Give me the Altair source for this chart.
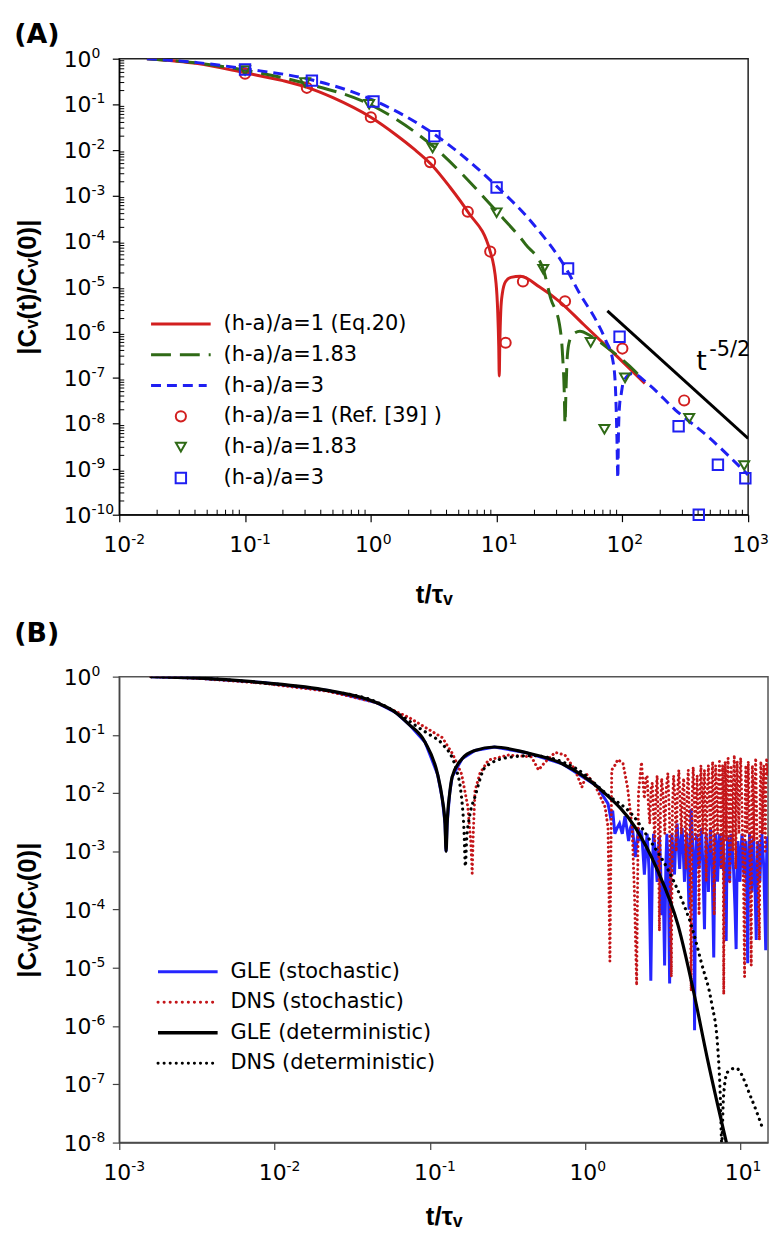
import altair as alt
import pandas as pd

FONT = "DejaVu Sans"
TFONT = "Liberation Sans"
RED = "#d21f1f"
GREEN = "#2f6a16"
BLUE = "#1f1ff2"
B_BLUE = "#2525ff"
B_RED = "#c41519"
BLACK = "#000000"

# ------------------------- Panel A data -------------------------
a_legend_labels = ["(h-a)/a=1 (Eq.20)", "(h-a)/a=1.83", "(h-a)/a=3",
                   "(h-a)/a=1 (Ref. [39] )", "(h-a)/a=1.83", "(h-a)/a=3"]

a_red_t = [0.0166, 0.042, 0.1, 0.2, 0.32, 0.5, 1.0, 1.6, 2.2, 3.0, 4.2, 5.9, 8.9, 9.9,
           10.2, 10.4, 10.5, 10.6, 10.8, 11.1, 11.8, 13, 15.5, 22, 32, 49, 81, 151]
a_red_c = [1.0, 0.78, 0.49, 0.33, 0.23, 0.14, 0.052, 0.021, 0.0105, 0.0049, 1.6e-3,
           4.4e-4, 5.9e-5, 1.2e-5, 3e-6, 5e-7, 1.1e-7, 5e-7, 3e-6, 7e-6, 1.3e-5,
           1.6e-5, 1.7e-5, 9.8e-6, 4.6e-6, 1.5e-6, 4e-7, 7.6e-8]

a_green_t = [0.0166, 0.042, 0.1, 0.3, 1.0, 3.06, 10, 17, 23.5, 27, 31.6, 33.5, 34.5,
             35, 35.6, 36.5, 38, 41, 46, 56, 81, 126, 137]
a_green_c = [1.0, 0.8, 0.56, 0.29, 0.097, 0.0126, 4.5e-4, 8.5e-5, 2.4e-5, 5.4e-6,
             1.5e-6, 3e-7, 5e-8, 1e-8, 5e-8, 3e-7, 6.5e-7, 9.3e-7, 1.05e-6, 8.3e-7,
             4e-7, 1.4e-7, 1.1e-7]

a_blue_t = [0.0166, 0.042, 0.1, 0.33, 1.0, 3.2, 10, 20, 36, 46, 62, 74, 84, 88,
            90.5, 92, 93, 95, 98, 102, 120, 158, 263, 478, 1000]
a_blue_c = [1.0, 0.82, 0.6, 0.35, 0.13, 0.022, 1.6e-3, 2.2e-4, 2.4e-5, 6.9e-6,
            1.8e-6, 6.5e-7, 2.4e-7, 6.5e-8, 5e-9, 6.4e-10, 5e-9, 2.5e-8, 4.5e-8,
            8.3e-8, 1.25e-7, 7.6e-8, 2e-8, 5.2e-9, 7.4e-10]

a_circ_t = [0.1, 0.31, 1.0, 2.96, 5.9, 8.9, 11.8, 16.2, 35, 100, 310]
a_circ_c = [0.47, 0.23, 0.052, 0.0054, 4.4e-4, 5.9e-5, 5.9e-7, 1.3e-5, 4.8e-6,
            4.4e-7, 3.2e-8]

a_tri_t = [0.1, 0.3, 0.97, 3.1, 10, 23.5, 56, 72, 105, 340, 930]
a_tri_c = [0.55, 0.3, 0.1, 0.011, 4.2e-4, 2.4e-5, 6e-7, 7.5e-9, 1e-7, 1.3e-8, 1.2e-9]

a_sq_t = [0.1, 0.34, 1.05, 3.2, 10, 37, 95, 280, 405, 575, 950]
a_sq_c = [0.58, 0.33, 0.115, 0.02, 1.5e-3, 2.5e-5, 8e-7, 8.7e-9, 1e-10, 1.25e-9, 6.3e-10]

a_pow_t = [76, 1000]
a_pow_c = [2.95e-6, 4.7e-9]
a_pow_text = ["t", "-5/2"]
a_pow_text_t = [425, 490]
a_pow_text_c = [2.2e-7, 4.1e-7]

a_x_ticks = [1e-2, 1e-1, 1e0, 1e1, 1e2, 1e3]
a_x_exp = ["-2", "-1", "0", "1", "2", "3"]
a_y_ticks = [1e-10, 1e-9, 1e-8, 1e-7, 1e-6, 1e-5, 1e-4, 1e-3, 1e-2, 1e-1, 1e0]
a_y_exp = ["-10", "-9", "-8", "-7", "-6", "-5", "-4", "-3", "-2", "-1", "0"]

# ------------------------- Panel B data -------------------------
b_legend_labels = ["GLE (stochastic)", "DNS (stochastic)", "GLE (deterministic)",
                   "DNS (deterministic)"]

b_gle_det_t = [0.0016, 0.0031, 0.0084, 0.022, 0.045, 0.06, 0.073, 0.093, 0.112, 0.12,
               0.125, 0.127, 0.129, 0.134, 0.139, 0.161, 0.195, 0.26, 0.41, 0.71,
               1.28, 2.09, 2.9, 3.96, 5.0, 6.1, 8.1]
b_gle_det_c = [1.0, 0.95, 0.79, 0.58, 0.36, 0.243, 0.153, 0.075, 0.021, 0.008, 0.003,
               0.001, 0.003, 0.01, 0.019, 0.039, 0.054, 0.062, 0.05, 0.032, 0.011,
               2.6e-3, 4.9e-4, 5.3e-5, 3.7e-6, 2.8e-7, 1e-8]

b_dns_det_t = [0.0016, 0.0031, 0.0084, 0.022, 0.045, 0.072, 0.084, 0.1, 0.12, 0.146,
               0.16, 0.166, 0.169, 0.172, 0.18, 0.195, 0.227, 0.32, 0.45, 0.86, 1.4,
               2.0, 2.67, 3.4, 4.17, 4.83, 5.6, 6.5, 7.1, 7.4, 7.55, 7.75, 8.2, 9.3,
               11.7, 13.8]
b_dns_det_c = [1.0, 0.95, 0.78, 0.57, 0.37, 0.18, 0.135, 0.1, 0.07, 0.028, 0.008,
               0.002, 5.5e-4, 0.0015, 0.004, 0.0087, 0.028, 0.041, 0.044, 0.027,
               9.2e-3, 4.3e-3, 1.4e-3, 4.9e-4, 1.5e-4, 5.2e-5, 1.2e-5, 2.5e-6, 4.7e-7,
               6e-8, 1e-8, 6e-8, 1.6e-7, 1.9e-7, 5.8e-8, 1.8e-8]

# GLE (stochastic): (t, C)
b_gle_sto = [
    (0.0016, 1.0), (0.0031, 0.95), (0.0084, 0.79), (0.022, 0.58), (0.045, 0.36),
    (0.06, 0.243), (0.073, 0.153), (0.093, 0.075), (0.112, 0.021), (0.12, 0.008),
    (0.125, 0.003), (0.127, 0.001), (0.129, 0.003), (0.134, 0.01), (0.139, 0.019),
    (0.161, 0.039), (0.195, 0.054), (0.26, 0.062), (0.41, 0.05), (0.71, 0.032),
    (1.2, 0.013), (1.3, 0.009), (1.4, 6.6e-3), (1.45, 4e-3), (1.5, 5e-3), (1.55, 2e-3),
    (1.6, 2.5e-3), (1.66, 3e-3), (1.73, 2e-3), (1.8, 4e-3), (1.85, 2.5e-3),
    (1.9, 1.5e-3), (1.95, 2.5e-3), (2.0, 3e-3), (2.05, 1.5e-3), (2.1, 8e-4),
    (2.15, 1.5e-3), (2.2, 2.5e-3), (2.25, 1.5e-3), (2.3, 2.3e-3), (2.35, 1e-3),
    (2.4, 4e-4), (2.45, 1e-3), (2.5, 2e-3), (2.57, 5e-4), (2.64, 6e-6), (2.7, 5e-4),
    (2.75, 2e-3), (2.82, 1e-3), (2.9, 3e-4), (2.95, 1e-3), (3.0, 1.8e-3),
    (3.05, 6e-4), (3.1, 8e-5), (3.17, 3e-4), (3.24, 1.1e-5), (3.3, 6e-4),
    (3.35, 2e-3), (3.42, 5e-4), (3.49, 5.4e-6), (3.55, 6e-4), (3.6, 2e-3),
    (3.67, 1e-3), (3.75, 4e-4), (3.82, 1.5e-3), (3.9, 3e-3), (3.97, 1.2e-3),
    (4.05, 5e-4), (4.12, 1.5e-3), (4.2, 2.5e-3), (4.27, 1e-3), (4.35, 3e-4),
    (4.42, 1e-3), (4.5, 2e-3), (4.57, 6e-4), (4.65, 1e-4), (4.72, 1e-3),
    (4.8, 5.4e-3), (4.87, 2e-3), (4.95, 1e-3), (5.0, 1e-4), (5.05, 8.5e-7),
    (5.12, 3e-4), (5.2, 2e-3), (5.3, 1e-3), (5.4, 5e-4), (5.5, 1.2e-3), (5.6, 2.5e-3),
    (5.72, 5e-4), (5.85, 4.6e-5), (5.92, 5e-4), (6.0, 2e-3), (6.1, 8e-4),
    (6.2, 2e-4), (6.3, 1e-3), (6.4, 2.5e-3), (6.47, 1.2e-3), (6.55, 6e-4),
    (6.63, 1e-4), (6.71, 1.5e-5), (6.8, 5e-4), (6.9, 2e-3), (7.0, 1e-3), (7.1, 3e-4),
    (7.2, 1e-3), (7.3, 2e-3), (7.4, 1e-3), (7.5, 5e-4), (7.6, 1e-3), (7.7, 2e-3),
    (7.8, 6e-4), (7.9, 1e-4), (8.0, 5e-4), (8.07, 2.9e-5), (8.15, 6e-4),
    (8.25, 1.8e-3), (8.37, 8e-4), (8.5, 3e-4), (8.6, 1e-3), (8.7, 2e-3),
    (8.85, 1e-3), (9.0, 5e-4), (9.2, 1e-4), (9.35, 2.1e-5), (9.47, 4e-4),
    (9.6, 1.5e-3), (9.75, 8e-4), (9.9, 3e-4), (10.05, 1e-3), (10.2, 2e-3),
    (10.35, 1e-3), (10.5, 4e-4), (10.65, 8e-4), (10.8, 1.5e-3), (10.95, 2e-4),
    (11.1, 1.2e-5), (11.25, 5e-4), (11.4, 2e-3), (11.6, 8e-4), (11.8, 2e-4),
    (11.95, 1e-3), (12.1, 1.8e-3), (12.35, 3e-4), (12.6, 3e-5), (12.75, 4e-4),
    (12.9, 1.5e-3), (13.1, 8e-4), (13.3, 3e-4), (13.5, 1e-3), (13.7, 2e-3),
    (13.9, 1e-3), (14.1, 5e-4), (14.3, 1e-4), (14.5, 2e-5), (14.65, 5e-4),
    (14.8, 1.8e-3), (14.9, 1.2e-3), (15.0, 1e-3),
]

# DNS (stochastic): (t, C)
b_dns_sto = [
    (0.0016, 1.0), (0.0031, 0.94), (0.0084, 0.77), (0.022, 0.56), (0.045, 0.36),
    (0.073, 0.2), (0.093, 0.135), (0.12, 0.09), (0.14, 0.047), (0.16, 0.021),
    (0.175, 0.006), (0.183, 0.0015), (0.187, 4.2e-4), (0.19, 0.002), (0.195, 0.011),
    (0.21, 0.022), (0.238, 0.037), (0.32, 0.045), (0.45, 0.042), (0.5, 0.025),
    (0.55, 0.034), (0.64, 0.05), (0.74, 0.045), (0.86, 0.025), (0.95, 0.0126),
    (1.02, 0.021), (1.15, 0.014), (1.34, 5.8e-3), (1.40, 2.6e-3), (1.44, 1.3e-5),
    (1.48, 0.025), (1.55, 0.03), (1.62, 0.038), (1.68, 0.035), (1.75, 0.032),
    (1.81, 0.02), (1.87, 0.0126), (1.93, 0.006), (2.0, 2.6e-3), (2.07, 2e-4),
    (2.14, 5e-6), (2.2, 0.01), (2.3, 0.034), (2.35, 0.015), (2.4, 0.008),
    (2.45, 0.018), (2.5, 0.02), (2.55, 0.006), (2.6, 0.003), (2.65, 0.012),
    (2.7, 0.015), (2.75, 0.004), (2.8, 1.5e-3), (2.85, 0.01), (2.9, 0.02),
    (2.95, 0.003), (3.0, 4.3e-5), (3.05, 0.006), (3.1, 0.018), (3.17, 0.009),
    (3.25, 2e-3), (3.32, 0.012), (3.4, 0.022), (3.48, 0.004), (3.58, 7e-6),
    (3.64, 0.006), (3.7, 0.02), (3.78, 0.008), (3.85, 1e-3), (3.92, 0.01),
    (4.0, 0.025), (4.07, 0.008), (4.15, 2e-3), (4.22, 0.01), (4.3, 0.018),
    (4.37, 0.004), (4.45, 5e-4), (4.52, 0.01), (4.6, 0.025), (4.7, 0.002),
    (4.8, 4e-6), (4.87, 0.008), (4.95, 0.028), (5.02, 0.01), (5.1, 1.5e-3),
    (5.17, 0.008), (5.25, 0.02), (5.32, 0.002), (5.4, 8e-5), (5.47, 0.01),
    (5.55, 0.03), (5.62, 0.01), (5.7, 2e-3), (5.77, 0.012), (5.85, 0.025),
    (5.92, 0.004), (6.0, 3e-4), (6.1, 0.01), (6.2, 0.03), (6.3, 0.008), (6.4, 1e-3),
    (6.5, 0.012), (6.6, 0.035), (6.68, 0.002), (6.76, 8e-5), (6.83, 0.01),
    (6.9, 0.03), (7.0, 0.01), (7.1, 2e-3), (7.2, 0.015), (7.3, 0.035), (7.4, 0.006),
    (7.5, 5e-4), (7.57, 0.01), (7.65, 0.03), (7.72, 0.002), (7.78, 3.5e-6),
    (7.86, 0.01), (7.95, 0.035), (8.02, 0.012), (8.1, 1.5e-3), (8.2, 0.015),
    (8.3, 0.04), (8.4, 0.005), (8.5, 3e-4), (8.6, 0.01), (8.7, 0.03), (8.8, 0.006),
    (8.9, 1e-3), (9.0, 0.015), (9.1, 0.045), (9.2, 0.008), (9.3, 5e-4),
    (9.4, 0.012), (9.5, 0.035), (9.62, 0.008), (9.75, 2e-3), (9.87, 0.015),
    (10.0, 0.04), (10.15, 0.01), (10.3, 1e-3), (10.45, 2e-4), (10.6, 7e-6),
    (10.7, 0.01), (10.8, 0.03), (10.9, 0.008), (11.0, 2e-3), (11.1, 0.012),
    (11.2, 0.035), (11.35, 0.005), (11.5, 5e-4), (11.6, 1e-4), (11.7, 1.1e-5),
    (11.8, 0.008), (11.9, 0.03), (12.05, 0.008), (12.2, 1.5e-3), (12.35, 0.015),
    (12.5, 0.04), (12.65, 0.006), (12.8, 5e-4), (13.0, 2e-4), (13.2, 3e-5),
    (13.35, 0.01), (13.5, 0.035), (13.65, 0.01), (13.8, 2e-3), (13.95, 0.012),
    (14.1, 0.03), (14.25, 0.006), (14.4, 1e-3), (14.55, 0.015), (14.7, 0.04),
    (14.85, 0.02), (15.0, 0.03),
]

b_x_ticks = [1e-3, 1e-2, 1e-1, 1e0, 1e1]
b_x_exp = ["-3", "-2", "-1", "0", "1"]
b_y_ticks = [1e-8, 1e-7, 1e-6, 1e-5, 1e-4, 1e-3, 1e-2, 1e-1, 1e0]
b_y_exp = ["-8", "-7", "-6", "-5", "-4", "-3", "-2", "-1", "0"]

# ------------------------- helpers -------------------------
Y_TITLE = "|C\u1d65(t)/C\u1d65(0)|"
X_TITLE = "t/\u03c4\u1d65"
ONE = pd.DataFrame({"k": [0]})
LAB = 22      # tick label size
SUPS = 14     # exponent size


def make_axis(values, title, color, title_pad, orient):
    return alt.Axis(values=values, labels=False, title=title, grid=False,
                    tickSize=7, tickWidth=1.2, tickColor=color, domainColor=color,
                    domainWidth=1.3, titleFont=TFONT, titleFontSize=26,
                    titleFontWeight="bold", titleColor="black",
                    titlePadding=title_pad, orient=orient)


def line(t, c, xs, ys, xa, ya, color, width, dash=None, interp="monotone", dotted=False):
    df = pd.DataFrame({"t": t, "c": c})
    kw = dict(color=color, strokeWidth=width, interpolate=interp, clip=True)
    if dash is not None:
        kw["strokeDash"] = dash
    if dotted:
        kw["strokeCap"] = "round"
    return alt.Chart(df).mark_line(**kw).encode(
        x=alt.X("t:Q", scale=xs, axis=xa), y=alt.Y("c:Q", scale=ys, axis=ya))


def points(t, c, xs, ys, xa, ya, color, shape, size):
    df = pd.DataFrame({"t": t, "c": c})
    return alt.Chart(df).mark_point(shape=shape, filled=False, color=color, size=size,
                                    strokeWidth=2, opacity=1).encode(
        x=alt.X("t:Q", scale=xs, axis=xa), y=alt.Y("c:Q", scale=ys, axis=ya))


def tick_labels(ticks, exps, xs, ys, xa, ya, along, H):
    df = pd.DataFrame({"v": ticks, "e": exps, "b": ["10"] * len(ticks)})
    base = alt.Chart(df)
    if along == "x":
        pos = dict(x=alt.X("v:Q", scale=xs, axis=xa))
        b = base.mark_text(font=FONT, fontSize=LAB, align="right", baseline="middle",
                           dx=12, color="black").encode(y=alt.value(H + 31), text="b:N", **pos)
        e = base.mark_text(font=FONT, fontSize=SUPS, align="left", baseline="middle",
                           dx=12, color="black").encode(y=alt.value(H + 25), text="e:N", **pos)
    else:
        pos = dict(y=alt.Y("v:Q", scale=ys, axis=ya))
        b = base.mark_text(font=FONT, fontSize=LAB, align="right", baseline="middle",
                           dy=1, color="black").encode(x=alt.value(-28), text="b:N", **pos)
        e = base.mark_text(font=FONT, fontSize=SUPS, align="left", baseline="middle",
                           dy=-5, color="black").encode(x=alt.value(-28), text="e:N", **pos)
    return [b, e]


def leg_line(x0, x1, y, color, width, dash=None, dotted=False):
    kw = dict(color=color, strokeWidth=width)
    if dash is not None:
        kw["strokeDash"] = dash
    if dotted:
        kw["strokeCap"] = "round"
    return alt.Chart(ONE).mark_rule(**kw).encode(
        x=alt.value(x0), x2=alt.value(x1), y=alt.value(y))


def leg_point(x, y, color, shape, size):
    return alt.Chart(ONE).mark_point(shape=shape, filled=False, color=color, size=size,
                                     strokeWidth=2, opacity=1).encode(
        x=alt.value(x), y=alt.value(y))


def leg_text(x, y, label, size=21):
    return alt.Chart(ONE).mark_text(align="left", baseline="middle", font=FONT,
                                    fontSize=size, color="black").encode(
        x=alt.value(x), y=alt.value(y), text=alt.value(label))


# ------------------------- Panel A -------------------------
WA, HA = 633, 459
xsA = alt.Scale(type="log", domain=[1e-2, 1e3], nice=False)
ysA = alt.Scale(type="log", domain=[1e-10, 1], nice=False)
xaA = make_axis(a_x_ticks, X_TITLE, "black", 60, "bottom")
yaA = make_axis(a_y_ticks, Y_TITLE, "black", 72, "left")

a_minor_x = [m * 10.0 ** k for k in range(-2, 3) for m in range(2, 10)]
a_minor_y = [m * 10.0 ** k for k in range(-10, 0) for m in range(2, 10)]

layersA = [
    alt.Chart(pd.DataFrame({"v": a_minor_x})).mark_rule(color="black", strokeWidth=1).encode(
        x=alt.X("v:Q", scale=xsA, axis=xaA), y=alt.value(HA), y2=alt.value(HA - 5)),
    alt.Chart(pd.DataFrame({"v": a_minor_y})).mark_rule(color="black", strokeWidth=1).encode(
        y=alt.Y("v:Q", scale=ysA, axis=yaA), x=alt.value(0), x2=alt.value(5)),
    line(a_red_t, a_red_c, xsA, ysA, xaA, yaA, RED, 3),
    line(a_green_t, a_green_c, xsA, ysA, xaA, yaA, GREEN, 3, dash=[20, 9]),
    line(a_blue_t, a_blue_c, xsA, ysA, xaA, yaA, BLUE, 3, dash=[10, 6]),
    line(a_pow_t, a_pow_c, xsA, ysA, xaA, yaA, BLACK, 3, interp="linear"),
    points(a_circ_t, a_circ_c, xsA, ysA, xaA, yaA, RED, "circle", 105),
    points(a_tri_t, a_tri_c, xsA, ysA, xaA, yaA, GREEN, "triangle-down", 100),
    points(a_sq_t, a_sq_c, xsA, ysA, xaA, yaA, BLUE, "square", 110),
    alt.Chart(pd.DataFrame({"t": a_pow_text_t[:1], "c": a_pow_text_c[:1], "s": a_pow_text[:1]}))
    .mark_text(font=FONT, fontSize=27, align="center", baseline="middle", color="black")
    .encode(x=alt.X("t:Q", scale=xsA, axis=xaA), y=alt.Y("c:Q", scale=ysA, axis=yaA), text="s:N"),
    alt.Chart(pd.DataFrame({"t": a_pow_text_t[1:], "c": a_pow_text_c[1:], "s": a_pow_text[1:]}))
    .mark_text(font=FONT, fontSize=21, align="left", baseline="middle", color="black")
    .encode(x=alt.X("t:Q", scale=xsA, axis=xaA), y=alt.Y("c:Q", scale=ysA, axis=yaA), text="s:N"),
]
layersA += tick_labels(a_x_ticks, a_x_exp, xsA, ysA, xaA, yaA, "x", HA)
layersA += tick_labels(a_y_ticks, a_y_exp, xsA, ysA, xaA, yaA, "y", HA)

# legend A (pixel layout inside the plot area)
lxA0, lxA1, lmA, ltA, ly0A, dyA = 32, 92, 62, 267, 267, 31
ltA = 105
layersA += [
    leg_line(lxA0, lxA1, ly0A, RED, 3),
    leg_line(lxA0, lxA1, ly0A + dyA, GREEN, 3, dash=[20, 9]),
    leg_line(lxA0, lxA1 - 4, ly0A + 2 * dyA, BLUE, 3, dash=[10, 6]),
    leg_point(lmA, ly0A + 3 * dyA, RED, "circle", 105),
    leg_point(lmA, ly0A + 4 * dyA, GREEN, "triangle-down", 100),
    leg_point(lmA, ly0A + 5 * dyA, BLUE, "square", 110),
]
layersA += [leg_text(ltA, ly0A + i * dyA, lab) for i, lab in enumerate(a_legend_labels)]

chartA = alt.layer(*layersA).properties(
    width=WA, height=HA,
    title=alt.TitleParams("(A)", anchor="start", frame="bounds", font=FONT, fontSize=27,
                          fontWeight="bold", color="black", offset=-2),
    view=alt.ViewBackground(stroke="#222222", strokeWidth=1.5),
)

# ------------------------- Panel B -------------------------
WB, HB = 653, 469
xsB = alt.Scale(type="log", domain=[1e-3, 15], nice=False)
ysB = alt.Scale(type="log", domain=[1e-8, 1], nice=False)
xaB = make_axis(b_x_ticks, X_TITLE, "#444444", 54, "bottom")
yaB = make_axis(b_y_ticks, Y_TITLE, "#444444", 72, "left")

gs_t = [p[0] for p in b_gle_sto]
gs_c = [p[1] for p in b_gle_sto]
ds_t = [p[0] for p in b_dns_sto]
ds_c = [p[1] for p in b_dns_sto]

layersB = [
    line(gs_t, gs_c, xsB, ysB, xaB, yaB, B_BLUE, 3, interp="linear"),
    line(ds_t, ds_c, xsB, ysB, xaB, yaB, B_RED, 3, dash=[0.1, 4.5],
         interp="linear", dotted=True),
    line(b_gle_det_t, b_gle_det_c, xsB, ysB, xaB, yaB, BLACK, 3.2),
    line(b_dns_det_t, b_dns_det_c, xsB, ysB, xaB, yaB, BLACK, 3.2, dash=[0.1, 6],
         dotted=True),
]
layersB += tick_labels(b_x_ticks, b_x_exp, xsB, ysB, xaB, yaB, "x", HB)
layersB += tick_labels(b_y_ticks, b_y_exp, xsB, ysB, xaB, yaB, "y", HB)

lxB0, lxB1, ltB, ly0B, dyB = 39, 99, 112, 297, 30.7
layersB += [
    leg_line(lxB0, lxB1, ly0B, B_BLUE, 3),
    leg_line(lxB0, lxB1, ly0B + dyB, B_RED, 3, dash=[0.1, 6], dotted=True),
    leg_line(lxB0, lxB1, ly0B + 2 * dyB, BLACK, 3.5),
    leg_line(lxB0, lxB1, ly0B + 3 * dyB, BLACK, 3, dash=[0.1, 6], dotted=True),
]
layersB += [leg_text(ltB, ly0B + i * dyB, lab) for i, lab in enumerate(b_legend_labels)]

chartB = alt.layer(*layersB).properties(
    width=WB, height=HB,
    title=alt.TitleParams("(B)", anchor="start", frame="bounds", font=FONT, fontSize=27,
                          fontWeight="bold", color="black", offset=17),
    view=alt.ViewBackground(stroke="#555555", strokeWidth=1.5),
)

chart = alt.vconcat(chartA, chartB, spacing=10).properties(
    padding={"left": 5, "top": 8, "right": 0, "bottom": 0}
).configure(background="white")
chart.save("out.html", embed_options={"renderer": "svg", "actions": False})
